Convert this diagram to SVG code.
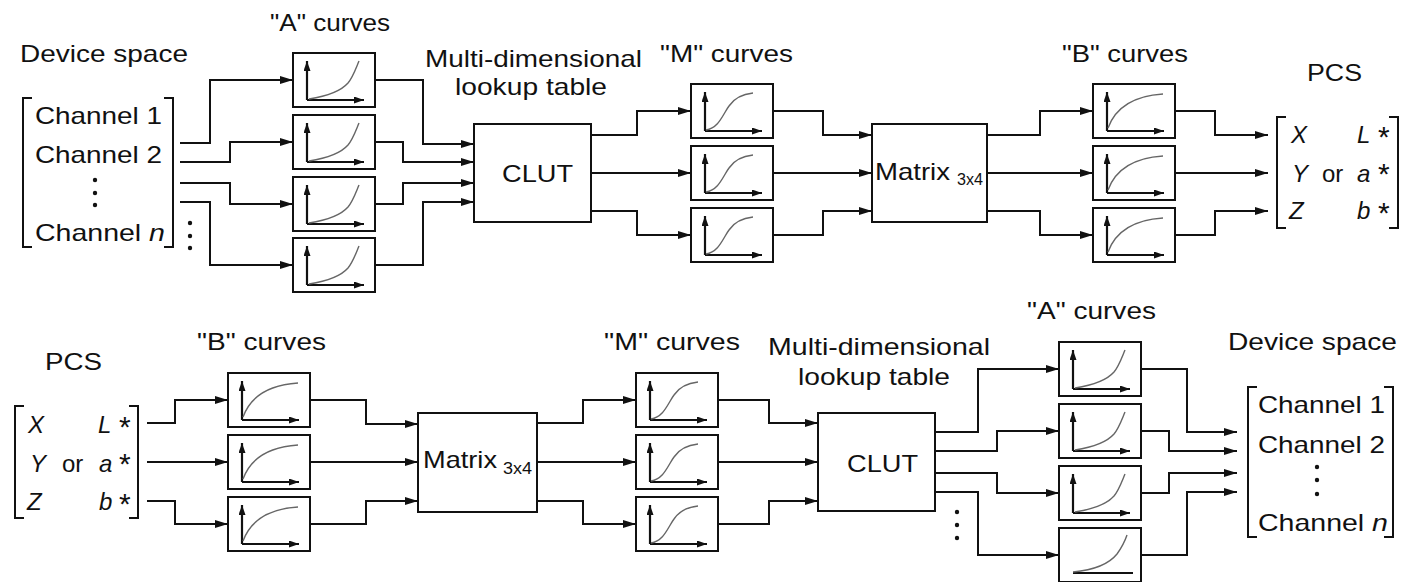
<svg xmlns="http://www.w3.org/2000/svg" xmlns:xlink="http://www.w3.org/1999/xlink" width="1410" height="582" viewBox="0 0 1410 582">
<style>
text{font-family:"Liberation Sans",Arial,sans-serif;fill:#111;}
.lbl{font-size:24px;}
.it{font-style:italic;}
.ast{font-size:30px;}
.sub{font-size:16px;}
.box{fill:#fff;stroke:#111;stroke-width:2;}
.ax{fill:none;stroke:#111;stroke-width:2.2;}
.crv{fill:none;stroke:#666;stroke-width:1.4;}
.conn path{fill:none;stroke:#111;stroke-width:2;marker-end:url(#arr);}
.brk{fill:none;stroke:#111;stroke-width:2;}
.dot{fill:#111;}
</style>
<defs>
<marker id="arr" markerUnits="userSpaceOnUse" markerWidth="14" markerHeight="8" refX="13" refY="4" orient="auto"><path d="M0,0 L13,4 L0,8 z" fill="#111"/></marker>
<marker id="axm" markerUnits="userSpaceOnUse" markerWidth="11" markerHeight="8" refX="10" refY="3.5" orient="auto"><path d="M0,0 L10,3.5 L0,7 z" fill="#111"/></marker>
<g id="axes"><path class="ax" d="M14,47 V8" marker-end="url(#axm)"/><path class="ax" d="M14,47 H71" marker-end="url(#axm)"/></g>
<rect id="frame" class="box" x="0" y="0" width="82" height="54"/>
<path id="cA" class="crv" d="M16,46 C35,43 48,38 55,30 C60,24 63,15 66,8"/>
<path id="cM" class="crv" d="M15,46 C28,44 32,30 38,22 C44,13 52,10 62,9"/>
<path id="cB" class="crv" d="M15,44 C22,25 38,12 70,10"/>
</defs>
<rect width="1410" height="582" fill="#fff"/>

<!-- connectors -->
<g id="connectors" class="conn">
<path d="M180,143 H210 V80 H293"/>
<path d="M180,162 H230 V142 H293"/>
<path d="M180,183 H230 V204 H293"/>
<path d="M180,202 H210 V265 H293"/>
<path d="M375,80 H423 V144 H474"/>
<path d="M375,142 H403 V162 H474"/>
<path d="M375,204 H403 V183 H474"/>
<path d="M375,265 H423 V202 H474"/>
<path d="M591,135 H637 V111 H691"/>
<path d="M591,173 H691"/>
<path d="M591,211 H637 V235 H691"/>
<path d="M773,111 H823 V135 H872"/>
<path d="M773,173 H872"/>
<path d="M773,235 H823 V211 H872"/>
<path d="M987,135 H1040 V111 H1093"/>
<path d="M987,173 H1093"/>
<path d="M987,211 H1040 V235 H1093"/>
<path d="M1175,111 H1215 V135 H1268"/>
<path d="M1175,173 H1268"/>
<path d="M1175,235 H1215 V211 H1268"/>

<path d="M147,423 H175 V400 H228"/>
<path d="M147,462 H228"/>
<path d="M147,501 H175 V524 H228"/>
<path d="M311,400 H366 V424 H418"/>
<path d="M311,462 H418"/>
<path d="M311,524 H366 V501 H418"/>
<path d="M537,423 H583 V400 H636"/>
<path d="M537,462 H636"/>
<path d="M537,501 H583 V524 H636"/>
<path d="M719,400 H769 V423 H818"/>
<path d="M719,462 H818"/>
<path d="M719,524 H769 V501 H818"/>
<path d="M935,432 H978 V369 H1059"/>
<path d="M935,451 H997 V431 H1059"/>
<path d="M935,473 H997 V493 H1059"/>
<path d="M935,492 H978 V555 H1059"/>
<path d="M1141,369 H1187 V432 H1237"/>
<path d="M1141,431 H1169 V451 H1237"/>
<path d="M1141,493 H1169 V473 H1237"/>
<path d="M1141,555 H1187 V492 H1237"/>
</g>

<!-- top row -->
<g id="device-in">
<text class="lbl" x="20" y="62" textLength="168" lengthAdjust="spacingAndGlyphs">Device space</text>
<path class="brk" d="M32,98 H23 V247 H32"/>
<path class="brk" d="M164,98 H173 V247 H164"/>
<text class="lbl" x="35" y="124" textLength="127" lengthAdjust="spacingAndGlyphs">Channel 1</text>
<text class="lbl" x="35" y="163" textLength="127" lengthAdjust="spacingAndGlyphs">Channel 2</text>
<text class="lbl" x="35" y="241" textLength="130" lengthAdjust="spacingAndGlyphs">Channel <tspan class="it">n</tspan></text>
<circle class="dot" cx="95" cy="180" r="2.2"/><circle class="dot" cx="95" cy="193" r="2.2"/><circle class="dot" cx="95" cy="205" r="2.2"/>
<circle class="dot" cx="190" cy="223" r="2.2"/><circle class="dot" cx="190" cy="236" r="2.2"/><circle class="dot" cx="190" cy="248" r="2.2"/>
</g>
<text class="lbl" x="270" y="31" textLength="120" lengthAdjust="spacingAndGlyphs">"A" curves</text>
<g id="tA1" transform="translate(293,53)"><use href="#frame"/><use href="#axes"/><use href="#cA"/></g>
<g id="tA2" transform="translate(293,115)"><use href="#frame"/><use href="#axes"/><use href="#cA"/></g>
<g id="tA3" transform="translate(293,177)"><use href="#frame"/><use href="#axes"/><use href="#cA"/></g>
<g id="tA4" transform="translate(293,238)"><use href="#frame"/><use href="#axes"/><use href="#cA"/></g>

<g id="tCLUT">
<text class="lbl" x="425" y="67" textLength="217" lengthAdjust="spacingAndGlyphs">Multi-dimensional</text>
<text class="lbl" x="455" y="95" textLength="152" lengthAdjust="spacingAndGlyphs">lookup table</text>
<rect class="box" x="474" y="124" width="117" height="98"/>
<text class="lbl" x="502" y="182" textLength="71" lengthAdjust="spacingAndGlyphs">CLUT</text>
</g>

<text class="lbl" x="660" y="62" textLength="133" lengthAdjust="spacingAndGlyphs">"M" curves</text>
<g id="tM1" transform="translate(691,84)"><use href="#frame"/><use href="#axes"/><use href="#cM"/></g>
<g id="tM2" transform="translate(691,146)"><use href="#frame"/><use href="#axes"/><use href="#cM"/></g>
<g id="tM3" transform="translate(691,208)"><use href="#frame"/><use href="#axes"/><use href="#cM"/></g>

<g id="tMatrix">
<rect class="box" x="872" y="124" width="115" height="98"/>
<text class="lbl" x="875" y="180" textLength="75" lengthAdjust="spacingAndGlyphs">Matrix</text>
<text class="sub" x="957" y="185" textLength="26" lengthAdjust="spacingAndGlyphs">3x4</text>
</g>

<text class="lbl" x="1062" y="62" textLength="126" lengthAdjust="spacingAndGlyphs">"B" curves</text>
<g id="tB1" transform="translate(1093,84)"><use href="#frame"/><use href="#axes"/><use href="#cB"/></g>
<g id="tB2" transform="translate(1093,146)"><use href="#frame"/><use href="#axes"/><use href="#cB"/></g>
<g id="tB3" transform="translate(1093,208)"><use href="#frame"/><use href="#axes"/><use href="#cB"/></g>

<g id="pcs-out">
<text class="lbl" x="1307" y="81" textLength="55" lengthAdjust="spacingAndGlyphs">PCS</text>
<path class="brk" d="M1286,117 H1277 V228 H1286"/>
<path class="brk" d="M1389,117 H1398 V228 H1389"/>
<text class="lbl it" x="1291" y="143">X</text>
<text class="lbl it" x="1357" y="143">L</text>
<text class="ast" x="1378" y="147">*</text>
<text class="lbl it" x="1292" y="182">Y</text>
<text class="lbl" x="1322" y="182">or</text>
<text class="lbl it" x="1357" y="182">a</text>
<text class="ast" x="1378" y="184">*</text>
<text class="lbl it" x="1289" y="219">Z</text>
<text class="lbl it" x="1357" y="219">b</text>
<text class="ast" x="1378" y="223">*</text>
</g>

<!-- bottom row -->
<g id="pcs-in">
<text class="lbl" x="45" y="370" textLength="57" lengthAdjust="spacingAndGlyphs">PCS</text>
<path class="brk" d="M24,406 H15 V518 H24"/>
<path class="brk" d="M129,406 H138 V518 H129"/>
<text class="lbl it" x="28" y="433">X</text>
<text class="lbl it" x="98" y="433">L</text>
<text class="ast" x="119" y="437">*</text>
<text class="lbl it" x="30" y="472">Y</text>
<text class="lbl" x="62" y="472">or</text>
<text class="lbl it" x="99" y="472">a</text>
<text class="ast" x="119" y="474">*</text>
<text class="lbl it" x="27" y="510">Z</text>
<text class="lbl it" x="99" y="510">b</text>
<text class="ast" x="119" y="514">*</text>
</g>

<text class="lbl" x="197" y="350" textLength="129" lengthAdjust="spacingAndGlyphs">"B" curves</text>
<g id="bB1" transform="translate(228,373)"><use href="#frame"/><use href="#axes"/><use href="#cB"/></g>
<g id="bB2" transform="translate(228,435)"><use href="#frame"/><use href="#axes"/><use href="#cB"/></g>
<g id="bB3" transform="translate(228,497)"><use href="#frame"/><use href="#axes"/><use href="#cB"/></g>

<g id="bMatrix">
<rect class="box" x="418" y="413" width="119" height="99"/>
<text class="lbl" x="423" y="468" textLength="74" lengthAdjust="spacingAndGlyphs">Matrix</text>
<text class="sub" x="503" y="474" textLength="29" lengthAdjust="spacingAndGlyphs">3x4</text>
</g>

<text class="lbl" x="604" y="350" textLength="136" lengthAdjust="spacingAndGlyphs">"M" curves</text>
<g id="bM1" transform="translate(636,373)"><use href="#frame"/><use href="#axes"/><use href="#cM"/></g>
<g id="bM2" transform="translate(636,435)"><use href="#frame"/><use href="#axes"/><use href="#cM"/></g>
<g id="bM3" transform="translate(636,497)"><use href="#frame"/><use href="#axes"/><use href="#cM"/></g>

<g id="bCLUT">
<text class="lbl" x="768" y="355" textLength="222" lengthAdjust="spacingAndGlyphs">Multi-dimensional</text>
<text class="lbl" x="798" y="385" textLength="152" lengthAdjust="spacingAndGlyphs">lookup table</text>
<rect class="box" x="818" y="413" width="117" height="98"/>
<text class="lbl" x="847" y="472" textLength="71" lengthAdjust="spacingAndGlyphs">CLUT</text>
<circle class="dot" cx="957" cy="512" r="2.2"/><circle class="dot" cx="957" cy="525" r="2.2"/><circle class="dot" cx="957" cy="538" r="2.2"/>
</g>

<text class="lbl" x="1027" y="319" textLength="129" lengthAdjust="spacingAndGlyphs">"A" curves</text>
<g id="bA1" transform="translate(1059,342)"><use href="#frame"/><use href="#axes"/><use href="#cA"/></g>
<g id="bA2" transform="translate(1059,404)"><use href="#frame"/><use href="#axes"/><use href="#cA"/></g>
<g id="bA3" transform="translate(1059,466)"><use href="#frame"/><use href="#axes"/><use href="#cA"/></g>
<g id="bA4" transform="translate(1059,528)"><use href="#frame"/><path class="ax" d="M14,45 H74"/><path class="crv" d="M14,44 C35,42 50,36 58,26 C63,19 66,13 68,7"/></g>

<g id="device-out">
<text class="lbl" x="1228" y="350" textLength="169" lengthAdjust="spacingAndGlyphs">Device space</text>
<path class="brk" d="M1257,387 H1248 V537 H1257"/>
<path class="brk" d="M1384,387 H1393 V537 H1384"/>
<text class="lbl" x="1258" y="413" textLength="127" lengthAdjust="spacingAndGlyphs">Channel 1</text>
<text class="lbl" x="1258" y="453" textLength="127" lengthAdjust="spacingAndGlyphs">Channel 2</text>
<text class="lbl" x="1258" y="531" textLength="130" lengthAdjust="spacingAndGlyphs">Channel <tspan class="it">n</tspan></text>
<circle class="dot" cx="1317" cy="467" r="2.2"/><circle class="dot" cx="1317" cy="480" r="2.2"/><circle class="dot" cx="1317" cy="494" r="2.2"/>
</g>
</svg>
